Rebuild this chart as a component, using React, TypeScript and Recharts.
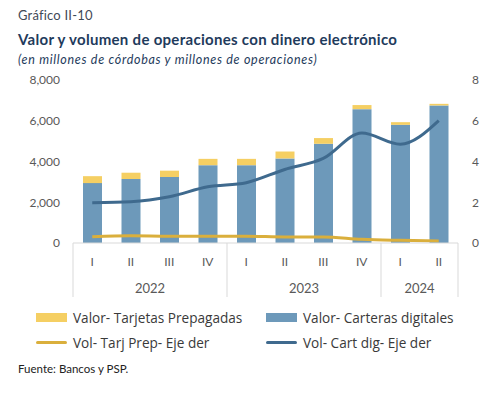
import React from "react";
import { ComposedChart, Bar, Line, XAxis, YAxis } from "recharts";

const quarters = ["I", "II", "III", "IV", "I", "II", "III", "IV", "I", "II"];
const years = ["2022", "2022", "2022", "2022", "2023", "2023", "2023", "2023", "2024", "2024"];
const valorCarteras = [2940, 3140, 3240, 3820, 3820, 4150, 4870, 6570, 5800, 6750];
const valorTarjetas = [340, 310, 310, 310, 310, 340, 280, 200, 130, 80];
const volTarjetas = [0.31, 0.35, 0.33, 0.33, 0.33, 0.3, 0.3, 0.18, 0.13, 0.1];
const volCarteras = [1.98, 2.03, 2.27, 2.76, 2.96, 3.61, 4.15, 5.4, 4.85, 6.01];
const leftTicks = [0, 2000, 4000, 6000, 8000];
const rightTicks = [0, 2, 4, 6, 8];

const data = quarters.map((q, i) => ({
  q: `${q}-${years[i]}`,
  quarter: q,
  year: years[i],
  carteras: valorCarteras[i],
  tarjetas: valorTarjetas[i],
  volTarj: volTarjetas[i],
  volCart: volCarteras[i],
}));

const C_YELLOW = "#F5CF63";
const C_BLUE = "#6D99BA";
const C_GOLD = "#DAAF3C";
const C_NAVY = "#3F6A8E";
const AXIS = "#D9D9D9";
const TXT = "#595959";
const FONT = "Lato, 'DejaVu Sans', sans-serif";
const FONT2 = "'Open Sans', 'DejaVu Sans', sans-serif";

const legendItems = [
  { label: "Valor- Tarjetas Prepagadas", color: C_YELLOW, kind: "rect" },
  { label: "Valor- Carteras digitales", color: C_BLUE, kind: "rect" },
  { label: "Vol- Tarj Prep- Eje der", color: C_GOLD, kind: "line" },
  { label: "Vol- Cart dig- Eje der", color: C_NAVY, kind: "line" },
];

const XTick = (props: any) => {
  const { x, y, payload, index } = props;
  const off = payload && payload.offset ? payload.offset : 19.25;
  const i = typeof index === "number" ? index : payload.index;
  const d = data[i];
  const els: any[] = [];
  els.push(
    <text key="q" x={x} y={y + 23} textAnchor="middle" fontSize={12} fill={TXT} fontFamily={FONT}>
      {d.quarter}
    </text>
  );
  const first = i === 0 || data[i - 1].year !== d.year;
  if (first) {
    els.push(<line key="s" x1={x - off} x2={x - off} y1={y} y2={y + 54} stroke={AXIS} strokeWidth={1} />);
  }
  if (i === data.length - 1) {
    els.push(<line key="e" x1={x + off} x2={x + off} y1={y} y2={y + 54} stroke={AXIS} strokeWidth={1} />);
  }
  const groupIdx = data.map((e, k) => k).filter((k) => data[k].year === d.year);
  const n = groupIdx.length;
  const midIdx = groupIdx[Math.floor((n - 1) / 2)];
  if (i === midIdx) {
    const cx = n % 2 === 0 ? x + off : x;
    els.push(
      <text key="y" x={cx} y={y + 50} textAnchor="middle" fontSize={13} fill={TXT} fontFamily={FONT}>
        {d.year}
      </text>
    );
  }
  return <g>{els}</g>;
};

export default function App() {
  return (
    <div style={{ position: "fixed", left: 0, top: 0, width: 492, height: 396, background: "#fff", fontFamily: FONT }}>
      <div style={{ position: "absolute", left: 18, top: 7, fontSize: 13, color: "#3f4a57", whiteSpace: "nowrap", letterSpacing: 0.2 }}>
        Gráfico II-10
      </div>
      <div style={{ position: "absolute", left: 18, top: 30, fontSize: 15, fontWeight: 700, color: "#1F3B5C", whiteSpace: "nowrap", letterSpacing: 0.3 }}>
        Valor y volumen de operaciones con dinero electrónico
      </div>
      <div style={{ position: "absolute", left: 18, top: 52, fontSize: 12.5, fontStyle: "italic", color: "#1F3B5C", whiteSpace: "nowrap", letterSpacing: 0.7 }}>
        (en millones de córdobas y millones de operaciones)
      </div>
      <div style={{ position: "absolute", left: 0, top: 0 }}>
        <ComposedChart width={492} height={300} data={data} margin={{ top: 80, right: 0, bottom: 0, left: 0 }}>
          <XAxis
            dataKey="q"
            interval={0}
            height={57}
            tickSize={0}
            tickMargin={0}
            tickLine={false}
            axisLine={{ stroke: AXIS }}
            tick={<XTick />}
          />
          <YAxis
            yAxisId="left"
            width={73}
            domain={[0, 8000]}
            ticks={leftTicks}
            axisLine={false}
            tickLine={false}
            tickMargin={7}
            tickFormatter={(v: number) => v.toLocaleString("en-US")}
            tick={{ fontSize: 12, fill: TXT, fontFamily: FONT }}
          />
          <YAxis
            yAxisId="right"
            orientation="right"
            width={34}
            domain={[0, 8]}
            ticks={rightTicks}
            axisLine={false}
            tickLine={false}
            tickMargin={8}
            tick={{ fontSize: 12, fill: TXT, fontFamily: FONT }}
          />
          <Bar yAxisId="left" dataKey="carteras" stackId="a" fill={C_BLUE} barSize={19} isAnimationActive={false} />
          <Bar yAxisId="left" dataKey="tarjetas" stackId="a" fill={C_YELLOW} barSize={19} isAnimationActive={false} />
          <Line yAxisId="right" type="monotone" dataKey="volTarj" stroke={C_GOLD} strokeWidth={3} dot={false} isAnimationActive={false} />
          <Line yAxisId="right" type="monotone" dataKey="volCart" stroke={C_NAVY} strokeWidth={3} dot={false} isAnimationActive={false} />
        </ComposedChart>
      </div>
      {legendItems.map((it, k) => {
        const col = k % 2;
        const row = Math.floor(k / 2);
        const left = col === 0 ? 36 : 266;
        const cy = row === 0 ? 317 : 342;
        return (
          <div key={it.label} style={{ position: "absolute", left, top: cy - 10, height: 20, display: "flex", alignItems: "center", whiteSpace: "nowrap" }}>
            <div
              style={{
                width: 31,
                height: it.kind === "rect" ? 9 : 3,
                background: it.color,
                borderRadius: it.kind === "line" ? 2 : 0,
                marginRight: 6,
              }}
            />
            <span style={{ fontSize: 13.6, color: "#3a3a3a", fontFamily: FONT2 }}>{it.label}</span>
          </div>
        );
      })}
      <div style={{ position: "absolute", left: 18, top: 362, fontSize: 11.5, color: "#222", fontWeight: 400, whiteSpace: "nowrap" }}>
        Fuente: Bancos y PSP.
      </div>
    </div>
  );
}
